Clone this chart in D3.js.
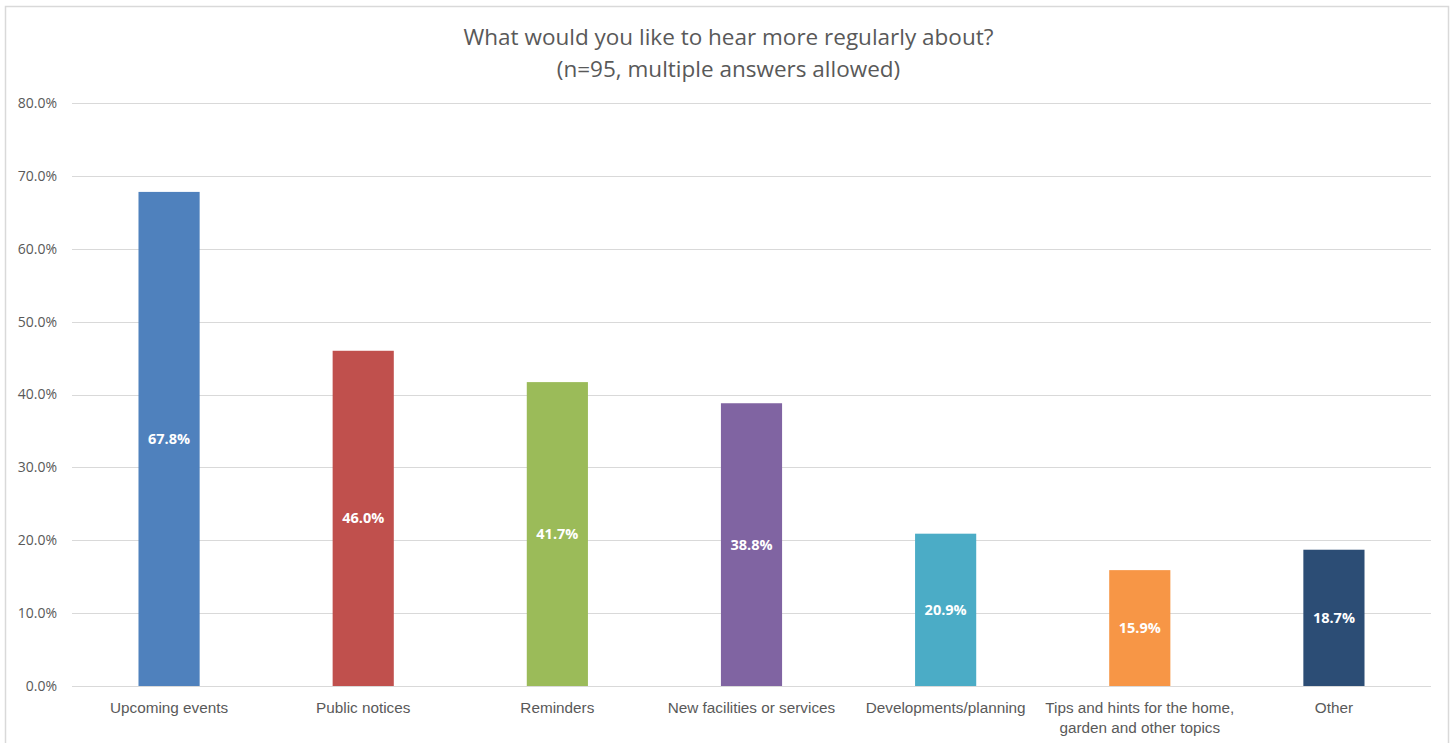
<!DOCTYPE html>
<html>
<head>
<meta charset="utf-8">
<script src="https://cdn.jsdelivr.net/npm/d3@7"></script>
<style>
  html, body { margin: 0; padding: 0; background: #fff; }
  svg { display: block; font-family: "Open Sans", "Noto Sans", sans-serif; }
</style>
</head>
<body>
<svg id="chart" width="1453" height="743"></svg>
<script>
// Survey responses (share of respondents, %)
const categories = [
  "Upcoming events",
  "Public notices",
  "Reminders",
  "New facilities or services",
  "Developments/planning",
  "Tips and hints for the home, garden and other topics",
  "Other"
];
const values = [67.8, 46.0, 41.7, 38.8, 20.9, 15.9, 18.7];
const barColors = ["#4F81BD", "#C0504D", "#9BBB59", "#8064A2", "#4BACC6", "#F79646", "#2C4D75"];
const yTicks = [0, 10, 20, 30, 40, 50, 60, 70, 80];
const titleLines = ["What would you like to hear more regularly about?", "(n=95, multiple answers allowed)"];

const svg = d3.select("#chart");

// chart frame
svg.append("rect")
  .attr("x", 5.5).attr("y", 6.5)
  .attr("width", 1443).attr("height", 745)
  .attr("fill", "#fff").attr("stroke", "#D9D9D9").attr("stroke-width", 1.5);

const plot = { left: 72, right: 1431, top: 103, bottom: 686 };

const x = d3.scaleBand()
  .domain(categories)
  .range([plot.left, plot.right])
  .paddingInner(0.685)
  .paddingOuter(0.3425);

const y = d3.scaleLinear()
  .domain([0, 80])
  .range([plot.bottom, plot.top]);

// gridlines
svg.append("g")
  .selectAll("line")
  .data(yTicks)
  .join("line")
  .attr("x1", plot.left).attr("x2", plot.right)
  .attr("y1", d => Math.round(y(d)) + 0.5).attr("y2", d => Math.round(y(d)) + 0.5)
  .attr("stroke", "#D9D9D9").attr("stroke-width", 1);

// y axis labels
const yAxis = d3.axisLeft(y)
  .tickValues(yTicks)
  .tickSize(0)
  .tickPadding(15)
  .tickFormat(d => d.toFixed(1) + "%");
const yg = svg.append("g")
  .attr("transform", `translate(${plot.left},0)`)
  .call(yAxis);
yg.select(".domain").remove();
yg.selectAll("text")
  .attr("fill", "#595959")
  .style("font-size", "14px")
  .style("font-family", "'Open Sans', sans-serif");

// bars
svg.append("g")
  .selectAll("rect")
  .data(values)
  .join("rect")
  .attr("x", (d, i) => x(categories[i]))
  .attr("y", d => y(d))
  .attr("width", x.bandwidth())
  .attr("height", d => y(0) - y(d))
  .attr("fill", (d, i) => barColors[i]);

// value labels, centred in each bar
svg.append("g")
  .selectAll("text")
  .data(values)
  .join("text")
  .attr("x", (d, i) => x(categories[i]) + x.bandwidth() / 2)
  .attr("y", d => (y(d) + y(0)) / 2)
  .attr("dy", "0.35em")
  .attr("text-anchor", "middle")
  .attr("fill", "#fff")
  .style("font-size", "14.5px")
  .style("font-weight", "bold")
  .text(d => d.toFixed(1) + "%");

// category labels (wrapped to fit the band)
const xAxis = d3.axisBottom(x).tickSize(0).tickPadding(0);
const xg = svg.append("g")
  .attr("transform", `translate(0,${plot.bottom})`)
  .call(xAxis);
xg.select(".domain").remove();
xg.selectAll("text").remove();
const maxLabelWidth = x.step() * 1.0;
xg.selectAll(".tick").each(function(d) {
  const t = d3.select(this).append("text")
    .attr("text-anchor", "middle")
    .attr("fill", "#595959")
    .style("font-size", "15.3px")
    .attr("y", 27);
  const words = d.split(" ");
  let line = [];
  let tspan = t.append("tspan").attr("x", 0).attr("dy", 0);
  words.forEach(w => {
    line.push(w);
    tspan.text(line.join(" "));
    if (tspan.node().getComputedTextLength() > maxLabelWidth && line.length > 1) {
      line.pop();
      tspan.text(line.join(" "));
      line = [w];
      tspan = t.append("tspan").attr("x", 0).attr("dy", 20).text(w);
    }
  });
});

// title
svg.append("g")
  .selectAll("text")
  .data(titleLines)
  .join("text")
  .attr("x", 728.5)
  .attr("y", (d, i) => 45 + i * 32)
  .attr("text-anchor", "middle")
  .attr("fill", "#595959")
  .style("font-size", "22.5px")
  .text(d => d);
</script>
</body>
</html>
